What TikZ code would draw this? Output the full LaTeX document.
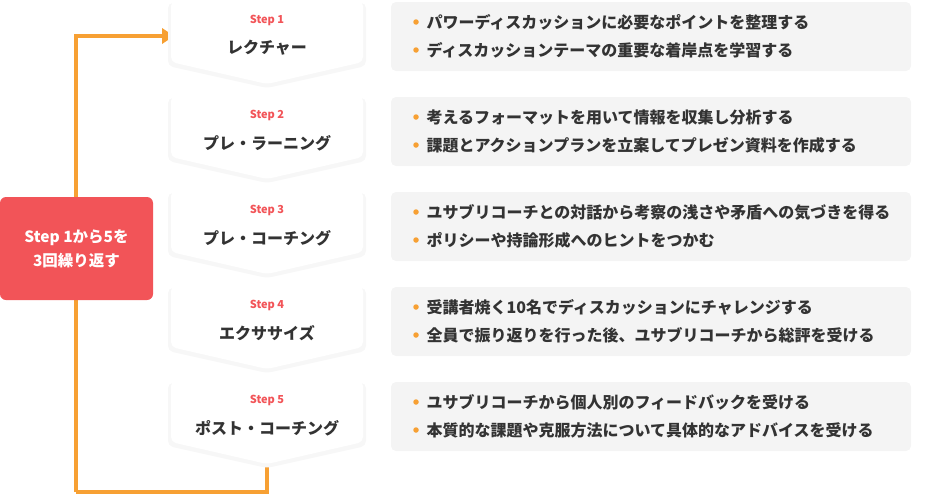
\documentclass[tikz,border=0pt]{standalone}
\usepackage{fontspec}
\newfontfamily\cjk{Noto Sans CJK JP}
\usetikzlibrary{positioning}
\definecolor{stepred}{HTML}{F25458}
\definecolor{flow}{HTML}{F7A033}
\definecolor{panel}{HTML}{F4F4F4}
\begin{document}
\begin{tikzpicture}[x=1pt,y=-1pt,font=\cjk]
	\tikzstyle{loopbox}=[fill=stepred,rounded corners=6pt,text=white,font=\cjk\bfseries\fontsize{15.5}{18}\selectfont,align=center]
	\tikzstyle{stepno}=[text=stepred,font=\cjk\bfseries\fontsize{11}{13}\selectfont]
	\tikzstyle{title}=[text=black!80,font=\cjk\bfseries\fontsize{16}{18}\selectfont]
	\tikzstyle{point}=[text=black!80,font=\cjk\bfseries\fontsize{16}{18}\selectfont,anchor=west]
	\tikzstyle{dot}=[circle,fill=flow,inner sep=0pt,minimum size=5.5pt]
	\tikzstyle{flowline}=[draw=flow,line width=3.5pt]
		\useasboundingbox (0,0) rectangle (925,498);
		% loop back line
		\coordinate (ltop) at (76,36);
		\coordinate (lhead) at (162,36);
		\coordinate (lbot) at (76,492);
		\coordinate (rbot) at (267,492);
		\coordinate (tip5) at (267,462);
			\draw[flowline] (lbot) -- (ltop) -- (lhead);
			\fill[flow] (162,28) -- (162,44) -- (174,36) -- cycle;
			\draw[flowline] (lbot) -- (rbot) -- (tip5);
		\node[loopbox, minimum width=153pt, minimum height=103pt] (rep) at (76.5,248.5) {Step 1から5を\\[6pt]3回繰り返す};
		% steps
		\foreach \n/\t/\a/\b in {1/レクチャー/パワーディスカッションに必要なポイントを整理する/ディスカッションテーマの重要な着岸点を学習する,
			2/プレ・ラーニング/考えるフォーマットを用いて情報を収集し分析する/課題とアクションプランを立案してプレゼン資料を作成する,
			3/プレ・コーチング/ユサブリコーチとの対話から考察の浅さや矛盾への気づきを得る/ポリシーや持論形成へのヒントをつかむ,
			4/エクササイズ/受講者焼く10名でディスカッションにチャレンジする/全員で振り返りを行った後、ユサブリコーチから総評を受ける,
			5/ポスト・コーチング/ユサブリコーチから個人別のフィードバックを受ける/本質的な課題や克服方法について具体的なアドバイスを受ける}{
			\pgfmathsetmacro{\y}{1+95*(\n-1)}
			\fill[black!3,rounded corners=5pt] (168,\y+2) -- (366,\y+2) -- (366,\y+65) -- (267,\y+87) -- (168,\y+65) -- cycle;
			\fill[white,rounded corners=5pt] (171,\y) -- (363,\y) -- (363,\y+61) -- (267,\y+83) -- (171,\y+61) -- cycle;
			\node[stepno] (s\n) at (267,\y+19) {Step \n};
			\node[title] (t\n) at (267,\y+47) {\t};
			\fill[panel,rounded corners=5pt] (391,\y+1) rectangle (911,\y+70);
			\node[dot] (d\n a) at (416,\y+21) {};
			\node[point] (p\n a) at (423,\y+21) {\a};
			\node[dot] (d\n b) at (416,\y+49) {};
			\node[point] (p\n b) at (423,\y+49) {\b};
		}
\end{tikzpicture}
\end{document}
